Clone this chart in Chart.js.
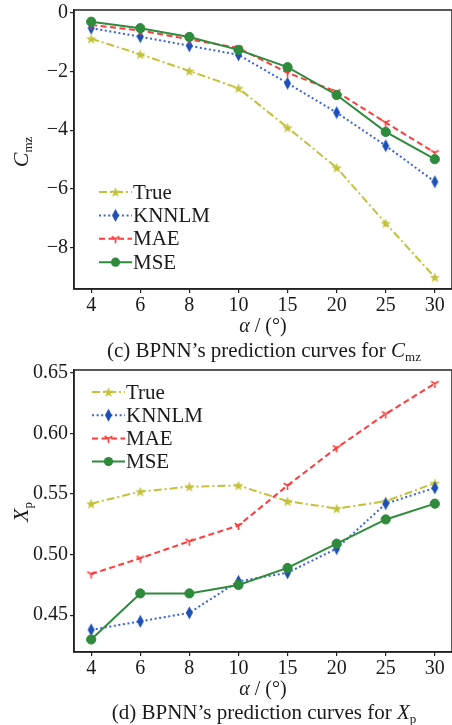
<!DOCTYPE html>
<html><head><meta charset="utf-8">
<script src="https://cdn.jsdelivr.net/npm/chart.js@4/dist/chart.umd.min.js"></script>
<style>
html,body{margin:0;padding:0;background:#fff;}
body{width:452px;height:725px;position:relative;overflow:hidden;font-family:"Liberation Serif","Times New Roman",serif;color:#1a1a1a;}
canvas{position:absolute;left:0;}
.t{position:absolute;white-space:nowrap;font-size:20px;line-height:1;transform:translate(-50%,-50%);}
.cap{font-size:21px;}
.yt{position:absolute;white-space:nowrap;font-size:22px;line-height:1;transform:translate(-50%,-50%) rotate(-90deg);}
i{font-style:italic;}
sub{font-size:13px;vertical-align:-4px;line-height:0;}
</style></head>
<body>
<canvas id="c1" width="452" height="362" style="top:0"></canvas>
<canvas id="c2" width="452" height="363" style="top:362px"></canvas>
<div class="yt" style="left:21px;top:152px"><i>C</i><sub>mz</sub></div>
<div class="t" style="left:263px;top:325px"><i>α</i> / (°)</div>
<div class="t cap" style="left:264px;top:350px">(c) BPNN’s prediction curves for <i>C</i><sub>mz</sub></div>
<div class="yt" style="left:21px;top:512px"><i>X</i><sub>p</sub></div>
<div class="t" style="left:263px;top:688px"><i>α</i> / (°)</div>
<div class="t cap" style="left:264px;top:712px">(d) BPNN’s prediction curves for <i>X</i><sub>p</sub></div>
<script>
const categories = ['4','6','8','10','15','20','25','30'];
const seriesNames = ['True','KNNLM','MAE','MSE'];
const cmzTrue  = [-0.88,-1.41,-1.98,-2.57,-3.91,-5.28,-7.18,-9.02];
const cmzKNNLM = [-0.52,-0.81,-1.12,-1.43,-2.40,-3.40,-4.53,-5.76];
const cmzMAE   = [-0.41,-0.60,-0.90,-1.20,-2.04,-2.69,-3.74,-4.77];
const cmzMSE   = [-0.30,-0.52,-0.82,-1.26,-1.85,-2.80,-4.06,-4.99];
const xpTrue  = [0.542,0.552,0.556,0.557,0.544,0.538,0.544,0.559];
const xpKNNLM = [0.438,0.445,0.452,0.478,0.485,0.505,0.542,0.555];
const xpMAE   = [0.484,0.497,0.511,0.524,0.557,0.588,0.616,0.641];
const xpMSE   = [0.430,0.468,0.468,0.475,0.489,0.509,0.529,0.542];
const cmzTicks = [0,-2,-4,-6,-8];
const xpTicks = [0.45,0.50,0.55,0.60,0.65];

const FONT = '"Liberation Serif"';
const COL = {True:'#c3c23a', KNNLM:'#3d62dc', KNNLMm:'#1d4fb6', MAE:'#ff3b3b', MSE:'#2e8b3c'};
function mk(w,h,draw){const c=document.createElement('canvas');c.width=w;c.height=h;draw(c.getContext('2d'));return c;}
const starImg = mk(12,12,ctx=>{ctx.fillStyle=COL.True;ctx.beginPath();
  for(let k=0;k<10;k++){const r=k%2?2.3:5.5;const a=-Math.PI/2+k*Math.PI/5;ctx.lineTo(6+r*Math.cos(a),6.5+r*Math.sin(a));}
  ctx.closePath();ctx.fill();});
const diaImg = mk(9,14,ctx=>{ctx.fillStyle=COL.KNNLMm;ctx.beginPath();ctx.moveTo(4.5,0.5);ctx.lineTo(8,7);ctx.lineTo(4.5,13.5);ctx.lineTo(1,7);ctx.closePath();ctx.fill();});
const triImg = mk(11,11,ctx=>{ctx.strokeStyle=COL.MAE;ctx.lineWidth=1.6;ctx.beginPath();
  ctx.moveTo(5.5,5.5);ctx.lineTo(5.5,10);ctx.moveTo(5.5,5.5);ctx.lineTo(1.6,3.2);ctx.moveTo(5.5,5.5);ctx.lineTo(9.4,3.2);ctx.stroke();});

function makeDatasets(arrs){
  const styles = [
    {c:COL.True, dash:[8,3,2,3], ps:starImg, r:5},
    {c:COL.KNNLM, dash:[2,2.6], ps:diaImg, r:5, pc:COL.KNNLMm},
    {c:COL.MAE, dash:[6,3.5], ps:triImg, r:5},
    {c:COL.MSE, dash:[], ps:'circle', r:4.6},
  ];
  return arrs.map((a,i)=>({
    label: seriesNames[i],
    data: a.map((v,j)=>({x:j,y:v})),
    borderColor: styles[i].c, backgroundColor: styles[i].pc||styles[i].c,
    pointBorderColor: styles[i].pc||styles[i].c, pointBackgroundColor: styles[i].pc||styles[i].c,
    borderWidth: 2, borderDash: styles[i].dash, pointStyle: styles[i].ps,
    pointRadius: styles[i].r, pointBorderWidth: 1, tension: 0, order: 4-i
  }));
}

const framePlugin = {id:'frame', afterDraw(chart){const a=chart.chartArea,ctx=chart.ctx;ctx.save();ctx.strokeStyle='#222';ctx.lineWidth=1.5;
  ctx.strokeRect(a.left,a.top,a.right-a.left,a.bottom-a.top);ctx.restore();}};

function legendPlugin(x1,x2,y0,dy){return {id:'lg', afterDatasetsDraw(chart){
  const ctx=chart.ctx; ctx.save();
  chart.data.datasets.forEach((d,i)=>{
    const y=y0+i*dy;
    ctx.strokeStyle=d.borderColor;ctx.lineWidth=2;ctx.setLineDash(d.borderDash);
    ctx.beginPath();ctx.moveTo(x1,y);ctx.lineTo(x2,y);ctx.stroke();ctx.setLineDash([]);
    if(d.pointStyle==='circle'){ctx.fillStyle=d.pointBackgroundColor;ctx.beginPath();ctx.arc((x1+x2)/2,y,d.pointRadius,0,Math.PI*2);ctx.fill();}
    else Chart.helpers.drawPoint(ctx,{pointStyle:d.pointStyle,radius:d.pointRadius,rotation:0,borderWidth:1},(x1+x2)/2,y);
    ctx.fillStyle='#1a1a1a';ctx.font='21px '+FONT;ctx.textBaseline='middle';ctx.textAlign='left';
    ctx.fillText(d.label,x2+1,y+1);
  });
  ctx.restore();}};}

function makeChart(id, arrs, ticks, ymin, ymax, fmt, topPad, xh, lg){
  return new Chart(document.getElementById(id),{
    type:'line',
    data:{datasets:makeDatasets(arrs)},
    options:{
      responsive:false, animation:false, devicePixelRatio:1,
      layout:{autoPadding:false,padding:{top:topPad,left:0,right:0,bottom:0}},
      plugins:{legend:{display:false},tooltip:{enabled:false}},
      scales:{
        x:{type:'linear',min:-0.35,max:7.35,
          afterBuildTicks:s=>{s.ticks=categories.map((c,i)=>({value:i}));},
          afterFit:s=>{s.height=xh;s.paddingLeft=0;s.paddingRight=0;},
          ticks:{callback:v=>categories[v],color:'#1a1a1a',font:{family:FONT,size:20},padding:1,maxRotation:0,autoSkip:false},
          grid:{drawOnChartArea:false,drawTicks:true,tickLength:4,color:'#222',lineWidth:1.2},
          border:{display:true,color:'#222',width:1.5}},
        y:{type:'linear',min:ymin,max:ymax,
          afterBuildTicks:s=>{s.ticks=ticks.map(v=>({value:v}));},
          afterFit:s=>{s.width=74;s.paddingTop=0;s.paddingBottom=0;},
          ticks:{callback:fmt,color:'#1a1a1a',font:{family:FONT,size:20},padding:2},
          grid:{drawOnChartArea:false,drawTicks:true,tickLength:4,color:'#222',lineWidth:1.2},
          border:{display:true,color:'#222',width:1.5}}
      }
    },
    plugins:[framePlugin, lg]
  });
}

function build(){
  Chart.defaults.font.family = FONT;
  makeChart('c1',[cmzTrue,cmzKNNLM,cmzMAE,cmzMSE],cmzTicks,-9.42,0.1,
    v=>v===0?'0':'\u2212'+Math.abs(v),10,73,legendPlugin(99,132,192,23.4));
  makeChart('c2',[xpTrue,xpKNNLM,xpMAE,xpMSE],xpTicks,0.4197,0.6522,
    v=>v.toFixed(2),8,73,legendPlugin(92,125,30,23.2));
}
Promise.all([document.fonts.load('20px '+FONT),document.fonts.load('21px '+FONT)]).then(build,build);
</script>
</body></html>
